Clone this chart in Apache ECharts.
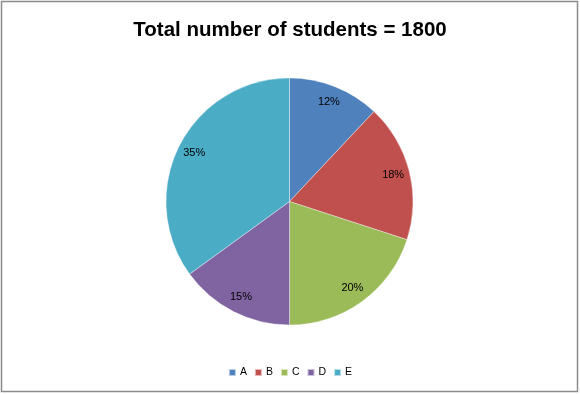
<!DOCTYPE html>
<html><head><meta charset="utf-8">
<script src="https://cdn.jsdelivr.net/npm/echarts@6/dist/echarts.min.js"></script>
<style>html,body{margin:0;padding:0;background:#fff}#c{width:580px;height:394px}</style>
</head><body><div id="c"></div>
<script>
const titleText = 'Total number of students = 1800';
const categories = ['A', 'B', 'C', 'D', 'E'];
const percents = [12, 18, 20, 15, 35];
const colors = ['#4F81BD', '#C0504D', '#9BBB59', '#8064A2', '#4BACC6'];

const data = categories.map((c, i) => ({ name: c, value: percents[i] }));
const chart = echarts.init(document.getElementById('c'), null, { renderer: 'canvas' });
chart.setOption({
  animation: false,
  color: colors,
  title: {
    text: titleText, left: 'center', top: 15,
    textStyle: { fontFamily: 'Liberation Sans', fontWeight: 'bold', fontSize: 20.5, color: '#000' }
  },
  legend: {
    data: categories, bottom: 11, left: 'center',
    itemWidth: 7, itemHeight: 7, itemGap: 7, icon: 'rect',
    textStyle: { fontFamily: 'Liberation Sans', fontSize: 10.5, color: '#000' , padding: [0,0,0,-1]}
  },
  graphic: [{
    type: 'rect', shape: { x: 1.5, y: 1.5, width: 576, height: 390 },
    style: { fill: 'none', stroke: '#8c8c8c', lineWidth: 1.5 }, silent: true
  }],
  series: [{
    type: 'pie', center: [289.5, 201.5], radius: 123.5, startAngle: 90, clockwise: true,
    data: data, label: { show: false }, labelLine: { show: false },
    itemStyle: { borderColor: 'rgba(255,255,255,0.6)', borderWidth: 0.6 }
  }, {
    type: 'pie', center: [289.5, 201.5], radius: [85, 123], startAngle: 90, clockwise: true,
    data: data, silent: true, legendHoverLink: false,
    itemStyle: { color: 'rgba(0,0,0,0)', borderWidth: 0 },
    label: { show: true, position: 'inside', formatter: '{c}%', fontFamily: 'Liberation Sans', fontSize: 11, color: '#000' },
    labelLine: { show: false }
  }]
});
</script></body></html>
